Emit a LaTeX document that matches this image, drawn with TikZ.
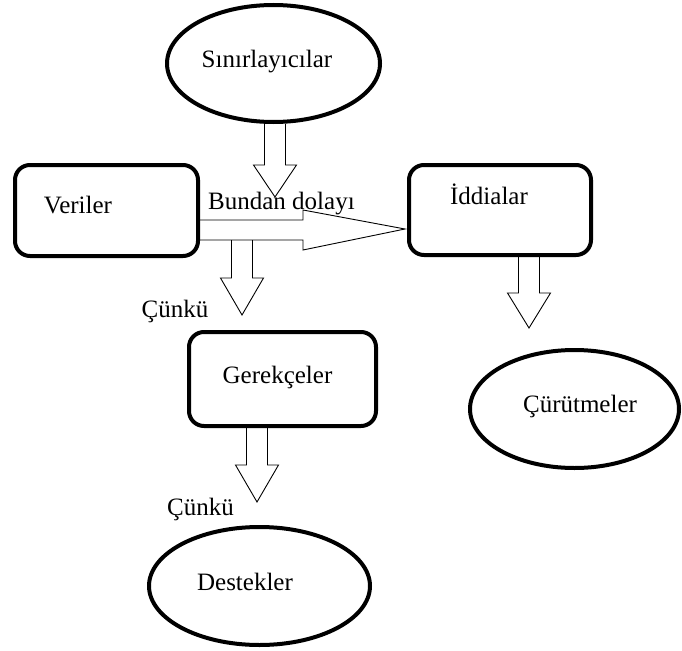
\documentclass[tikz,border=0pt]{standalone}
\usepackage{fontspec}
\setmainfont{Liberation Serif}
\usetikzlibrary{shapes.geometric, calc}

% hollow block arrow pointing down: start, tip, head length
\newcommand{\blockdown}[3]{%
  \draw[blk] let \p1=(#1), \p2=(#2) in
    (\x2-10.5pt,\y1) -- (\x2-10.5pt,\y2+#3) -- (\x2-21.5pt,\y2+#3) -- (\x2,\y2)
    -- (\x2+21.5pt,\y2+#3) -- (\x2+10.5pt,\y2+#3) -- (\x2+10.5pt,\y1);}

\begin{document}
\begin{tikzpicture}[x=1pt, y=-1pt,
			box/.style={rectangle, rounded corners=15pt, draw, line width=4pt, inner sep=0pt},
			oval/.style={ellipse, draw, line width=4pt, inner sep=0pt},
			blk/.style={draw, line width=0.9pt, line join=miter},
			txt/.style={inner sep=0pt, anchor=base, font=\fontsize{25}{30}\selectfont}
			]
			\useasboundingbox (0,0) rectangle (682,650);
			
			\node[oval, minimum width=213pt, minimum height=117pt] (sinir) at (273.5,63.5) {};
			\node[box, minimum width=183pt, minimum height=91pt] (veriler) at (106.5,210.5) {};
			\node[box, minimum width=182pt, minimum height=90pt] (iddia) at (500,210) {};
			\node[box, minimum width=187pt, minimum height=94pt] (gerekce) at (282.5,379) {};
			\node[oval, minimum width=221pt, minimum height=118pt] (destek) at (259.5,586) {};
			\node[oval, minimum width=209pt, minimum height=118pt] (curut) at (574.5,409) {};
			
			\node[txt] (sinirt) at (267,68) {Sınırlayıcılar};
			\node[txt] (verilert) at (78,213) {Veriler};
			\node[txt] (iddiat) at (489,204) {İddialar};
			\node[txt] (gerekcet) at (277.5,383) {Gerekçeler};
			\node[txt] (destekt) at (245,590) {Destekler};
			\node[txt] (curutt) at (580,412) {Çürütmeler};
			\node[txt, anchor=base west] (dolayi) at (208,209) {Bundan dolayı};
			\node[txt] (cunku1) at (175,317) {Çünkü};
			\node[txt] (cunku2) at (200.5,515) {Çünkü};
			
			\coordinate (sinirtip) at (275,197);
			\coordinate (shaftlow) at ($(veriler.east)+(0,29.5)$);
			\coordinate (verilertip) at (242,315);
			\coordinate (gerekcetip) at (257,502);
			\coordinate (iddiatip) at (529,328);
			
			% right arrow Veriler -> Iddialar
			\draw[blk] ($(veriler.east)+(0,9.5)$) -- (303,220) -- (303,210)
				-- ($(iddia.west)+(-2,19)$) -- (303,250) -- (303,240) -- (shaftlow);
			
			\blockdown{sinir.south}{sinirtip}{32pt}
			\blockdown{shaftlow}{verilertip}{37pt}
			\blockdown{gerekce.south}{gerekcetip}{37pt}
			\blockdown{iddia.south}{iddiatip}{35pt}
		\end{tikzpicture}
\end{document}
